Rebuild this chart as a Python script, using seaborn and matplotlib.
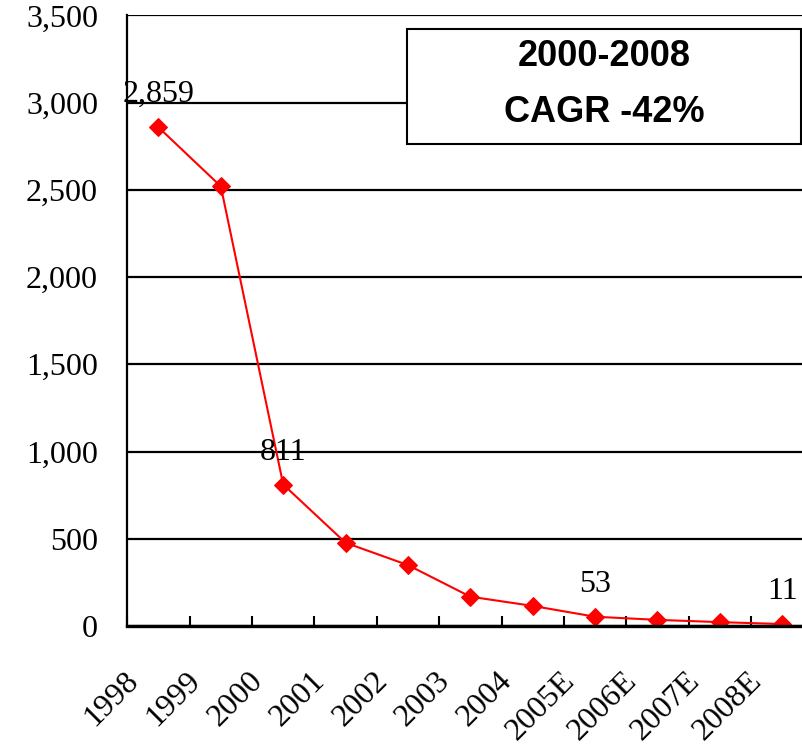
import matplotlib
matplotlib.use("Agg")
import matplotlib.pyplot as plt
import matplotlib.transforms as mtransforms
import seaborn as sns
import pandas as pd

years = ["1998", "1999", "2000", "2001", "2002", "2003", "2004",
         "2005E", "2006E", "2007E", "2008E"]
values = [2859, 2520, 811, 477, 349, 168, 115, 53, 35, 22, 11]
labeled_idx = [0, 2, 7, 10]
y_ticks = [0, 500, 1000, 1500, 2000, 2500, 3000, 3500]
box_lines = ["2000-2008", "CAGR -42%"]

sns.set_theme(style="white")
plt.rcParams["font.family"] = ["Liberation Serif", "DejaVu Serif"]
plt.rcParams["text.color"] = "black"
plt.rcParams["xtick.color"] = "black"
plt.rcParams["ytick.color"] = "black"
plt.rcParams["axes.labelcolor"] = "black"

df = pd.DataFrame({"year": years, "value": values})

fig = plt.figure(figsize=(8.03, 7.46), dpi=100)
ax = fig.add_axes([0.1585, 0.1609, 0.8544, 0.8184])

sns.lineplot(data=df, x="year", y="value", sort=False, ax=ax,
             color="#ff0000", linewidth=1.5, marker="D", markersize=9,
             markeredgecolor="#ff0000", markerfacecolor="#ff0000")

ax.set_xlim(-0.5, len(years) - 0.5)
ax.set_ylim(0, 3500)
ax.set_xlabel("")
ax.set_ylabel("")

# y axis
ax.set_yticks(y_ticks)
ax.set_yticklabels([f"{v:,}" for v in y_ticks])
ax.yaxis.grid(True, color="black", linewidth=1.6)
ax.tick_params(axis="y", length=0, pad=21, labelsize=23, labelcolor="black")

# x axis: labels at category centres, tick marks at boundaries
ax.set_xticks(range(len(years)))
ax.set_xticklabels(years, rotation=45, ha="right", va="top")
ax.set_xticks([i - 0.5 for i in range(len(years) + 1)], minor=True)
ax.tick_params(axis="x", which="major", length=0, pad=29, labelsize=23,
               labelcolor="black")
ax.tick_params(axis="x", which="minor", direction="in", length=7.5,
               width=1.5, color="black", bottom=True)
offset = mtransforms.ScaledTranslation(-14.5 / 100, 0, fig.dpi_scale_trans)
for lab in ax.get_xticklabels():
    lab.set_transform(lab.get_transform() + offset)

for side in ["top", "right"]:
    ax.spines[side].set_visible(False)
ax.spines["left"].set_color("black")
ax.spines["left"].set_linewidth(1.6)
ax.spines["bottom"].set_color("black")
ax.spines["bottom"].set_linewidth(2.4)

# data labels
for i in labeled_idx:
    ax.annotate(f"{values[i]:,}", (i, values[i]), xytext=(0, 18),
                textcoords="offset points", ha="center", va="baseline",
                fontsize=23, color="black")

# CAGR box
bx0, by0, bx1, by1 = 407 / 803, 1 - 144 / 746, 801 / 803, 1 - 29 / 746
rect = plt.Rectangle((bx0, by0), bx1 - bx0, by1 - by0, transform=fig.transFigure,
                     facecolor="white", edgecolor="black", linewidth=1.5,
                     zorder=5)
fig.add_artist(rect)
fig.text((bx0 + bx1) / 2, 1 - 56 / 746, box_lines[0], ha="center", va="center",
         fontsize=26, fontweight="bold", family="Liberation Sans",
         color="black", zorder=6)
fig.text((bx0 + bx1) / 2, 1 - 112 / 746, box_lines[1], ha="center", va="center",
         fontsize=26, fontweight="bold", family="Liberation Sans",
         color="black", zorder=6)

fig.savefig("out.png", dpi=100)
